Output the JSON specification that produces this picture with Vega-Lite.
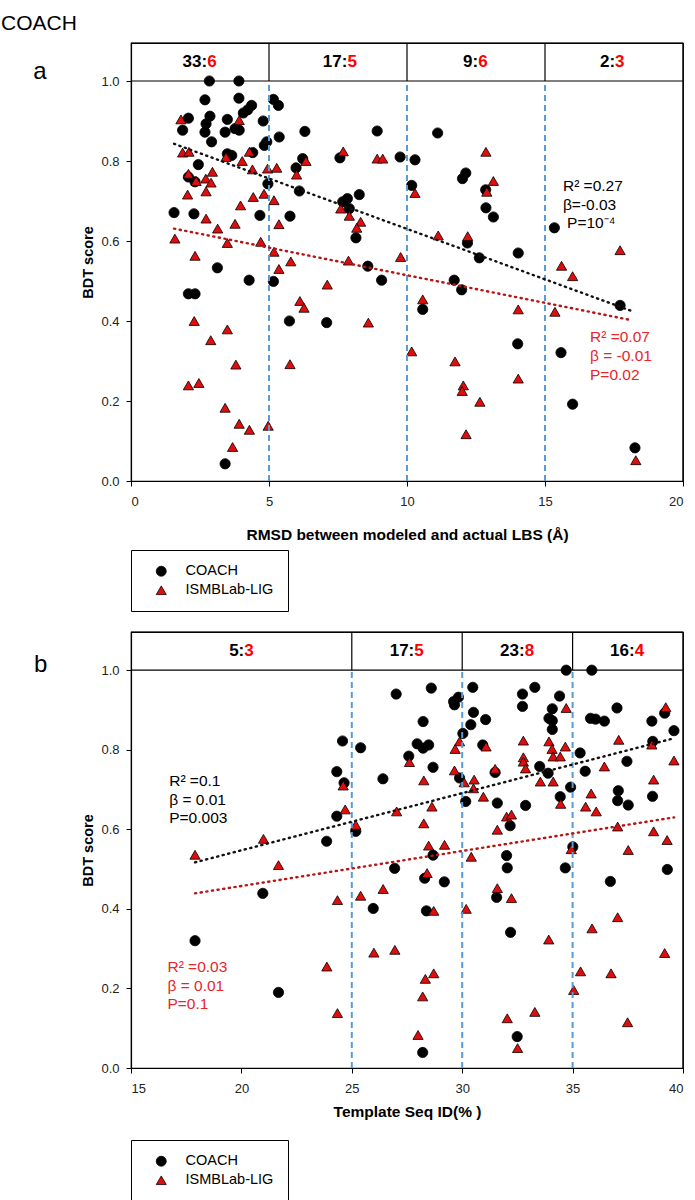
{
"$schema": "https://vega.github.io/schema/vega-lite/v6.json",
"background": "white",
"padding": {"left": 0, "top": 12, "right": 8, "bottom": 0},
"bounds": "flush",
"spacing": 151,
"config": {
  "font": "Liberation Sans",
  "view": {"stroke": "black", "strokeWidth": 1.2},
  "axis": {"grid": false, "domainColor": "black", "domainWidth": 1.2, "tickColor": "black", "tickSize": 5, "labelColor": "#222", "labelFontSize": 13, "titleFontSize": 15.5, "titleFontWeight": "bold", "titleColor": "black"},
  "text": {"font": "Liberation Sans"}
},
"datasets": {
  "pa": [
    {"x":2.84,"y":1.0,"m":"COACH"},{"x":3.91,"y":1.0,"m":"COACH"},{"x":2.68,"y":0.953,"m":"COACH"},{"x":3.91,"y":0.957,"m":"COACH"},{"x":4.37,"y":0.939,"m":"COACH"},{"x":4.23,"y":0.928,"m":"COACH"},{"x":4.07,"y":0.92,"m":"COACH"},{"x":2.08,"y":0.907,"m":"COACH"},{"x":2.86,"y":0.912,"m":"COACH"},{"x":3.49,"y":0.904,"m":"COACH"},{"x":2.72,"y":0.893,"m":"COACH"},{"x":1.87,"y":0.877,"m":"COACH"},{"x":2.68,"y":0.872,"m":"COACH"},{"x":3.41,"y":0.872,"m":"COACH"},{"x":3.77,"y":0.881,"m":"COACH"},{"x":3.92,"y":0.877,"m":"COACH"},{"x":4.79,"y":0.9,"m":"COACH"},{"x":2.92,"y":0.848,"m":"COACH"},{"x":4.92,"y":0.848,"m":"COACH"},{"x":4.83,"y":0.839,"m":"COACH"},{"x":3.49,"y":0.818,"m":"COACH"},{"x":3.65,"y":0.814,"m":"COACH"},{"x":4.41,"y":0.821,"m":"COACH"},{"x":2.44,"y":0.791,"m":"COACH"},{"x":2.08,"y":0.76,"m":"COACH"},{"x":2.32,"y":0.748,"m":"COACH"},{"x":4.96,"y":0.743,"m":"COACH"},{"x":1.56,"y":0.671,"m":"COACH"},{"x":2.28,"y":0.668,"m":"COACH"},{"x":4.67,"y":0.664,"m":"COACH"},{"x":3.13,"y":0.533,"m":"COACH"},{"x":4.28,"y":0.502,"m":"COACH"},{"x":5.16,"y":0.499,"m":"COACH"},{"x":2.08,"y":0.468,"m":"COACH"},{"x":2.32,"y":0.468,"m":"COACH"},{"x":3.41,"y":0.043,"m":"COACH"},{"x":5.16,"y":0.954,"m":"COACH"},{"x":5.34,"y":0.939,"m":"COACH"},{"x":6.3,"y":0.874,"m":"COACH"},{"x":8.92,"y":0.875,"m":"COACH"},{"x":5.37,"y":0.86,"m":"COACH"},{"x":6.22,"y":0.806,"m":"COACH"},{"x":7.57,"y":0.808,"m":"COACH"},{"x":9.75,"y":0.81,"m":"COACH"},{"x":10.29,"y":0.803,"m":"COACH"},{"x":5.98,"y":0.783,"m":"COACH"},{"x":6.1,"y":0.725,"m":"COACH"},{"x":10.17,"y":0.739,"m":"COACH"},{"x":7.84,"y":0.706,"m":"COACH"},{"x":8.27,"y":0.716,"m":"COACH"},{"x":7.67,"y":0.698,"m":"COACH"},{"x":7.91,"y":0.681,"m":"COACH"},{"x":5.76,"y":0.662,"m":"COACH"},{"x":8.15,"y":0.608,"m":"COACH"},{"x":8.58,"y":0.537,"m":"COACH"},{"x":9.08,"y":0.502,"m":"COACH"},{"x":5.74,"y":0.4,"m":"COACH"},{"x":7.09,"y":0.396,"m":"COACH"},{"x":11.11,"y":0.87,"m":"COACH"},{"x":12.13,"y":0.77,"m":"COACH"},{"x":12.01,"y":0.756,"m":"COACH"},{"x":12.85,"y":0.728,"m":"COACH"},{"x":12.86,"y":0.683,"m":"COACH"},{"x":13.13,"y":0.66,"m":"COACH"},{"x":15.34,"y":0.633,"m":"COACH"},{"x":12.19,"y":0.595,"m":"COACH"},{"x":14.03,"y":0.57,"m":"COACH"},{"x":12.62,"y":0.558,"m":"COACH"},{"x":11.71,"y":0.502,"m":"COACH"},{"x":11.98,"y":0.478,"m":"COACH"},{"x":10.57,"y":0.429,"m":"COACH"},{"x":17.72,"y":0.439,"m":"COACH"},{"x":14.01,"y":0.343,"m":"COACH"},{"x":15.58,"y":0.321,"m":"COACH"},{"x":16.0,"y":0.192,"m":"COACH"},{"x":18.26,"y":0.083,"m":"COACH"},
    {"x":1.81,"y":0.904,"m":"ISMBLab-LIG"},{"x":3.92,"y":0.902,"m":"ISMBLab-LIG"},{"x":1.87,"y":0.821,"m":"ISMBLab-LIG"},{"x":2.1,"y":0.823,"m":"ISMBLab-LIG"},{"x":3.44,"y":0.81,"m":"ISMBLab-LIG"},{"x":4.29,"y":0.823,"m":"ISMBLab-LIG"},{"x":4.03,"y":0.8,"m":"ISMBLab-LIG"},{"x":4.4,"y":0.779,"m":"ISMBLab-LIG"},{"x":4.95,"y":0.781,"m":"ISMBLab-LIG"},{"x":5.28,"y":0.783,"m":"ISMBLab-LIG"},{"x":2.08,"y":0.768,"m":"ISMBLab-LIG"},{"x":2.36,"y":0.75,"m":"ISMBLab-LIG"},{"x":2.71,"y":0.756,"m":"ISMBLab-LIG"},{"x":2.95,"y":0.773,"m":"ISMBLab-LIG"},{"x":2.9,"y":0.746,"m":"ISMBLab-LIG"},{"x":2.05,"y":0.716,"m":"ISMBLab-LIG"},{"x":2.72,"y":0.724,"m":"ISMBLab-LIG"},{"x":4.43,"y":0.71,"m":"ISMBLab-LIG"},{"x":4.82,"y":0.718,"m":"ISMBLab-LIG"},{"x":5.18,"y":0.702,"m":"ISMBLab-LIG"},{"x":3.97,"y":0.689,"m":"ISMBLab-LIG"},{"x":2.72,"y":0.656,"m":"ISMBLab-LIG"},{"x":3.77,"y":0.643,"m":"ISMBLab-LIG"},{"x":3.14,"y":0.631,"m":"ISMBLab-LIG"},{"x":1.59,"y":0.606,"m":"ISMBLab-LIG"},{"x":3.49,"y":0.595,"m":"ISMBLab-LIG"},{"x":4.7,"y":0.598,"m":"ISMBLab-LIG"},{"x":5.18,"y":0.573,"m":"ISMBLab-LIG"},{"x":2.32,"y":0.563,"m":"ISMBLab-LIG"},{"x":5.36,"y":0.53,"m":"ISMBLab-LIG"},{"x":2.29,"y":0.4,"m":"ISMBLab-LIG"},{"x":3.49,"y":0.379,"m":"ISMBLab-LIG"},{"x":2.89,"y":0.352,"m":"ISMBLab-LIG"},{"x":3.8,"y":0.291,"m":"ISMBLab-LIG"},{"x":2.08,"y":0.239,"m":"ISMBLab-LIG"},{"x":2.46,"y":0.245,"m":"ISMBLab-LIG"},{"x":3.41,"y":0.183,"m":"ISMBLab-LIG"},{"x":3.92,"y":0.143,"m":"ISMBLab-LIG"},{"x":4.29,"y":0.128,"m":"ISMBLab-LIG"},{"x":4.97,"y":0.138,"m":"ISMBLab-LIG"},{"x":3.68,"y":0.085,"m":"ISMBLab-LIG"},{"x":7.69,"y":0.824,"m":"ISMBLab-LIG"},{"x":6.34,"y":0.8,"m":"ISMBLab-LIG"},{"x":8.92,"y":0.806,"m":"ISMBLab-LIG"},{"x":9.12,"y":0.806,"m":"ISMBLab-LIG"},{"x":6.0,"y":0.766,"m":"ISMBLab-LIG"},{"x":7.6,"y":0.681,"m":"ISMBLab-LIG"},{"x":7.91,"y":0.663,"m":"ISMBLab-LIG"},{"x":8.32,"y":0.648,"m":"ISMBLab-LIG"},{"x":8.18,"y":0.633,"m":"ISMBLab-LIG"},{"x":5.36,"y":0.642,"m":"ISMBLab-LIG"},{"x":5.79,"y":0.549,"m":"ISMBLab-LIG"},{"x":7.88,"y":0.551,"m":"ISMBLab-LIG"},{"x":9.77,"y":0.56,"m":"ISMBLab-LIG"},{"x":7.11,"y":0.491,"m":"ISMBLab-LIG"},{"x":6.12,"y":0.45,"m":"ISMBLab-LIG"},{"x":6.27,"y":0.433,"m":"ISMBLab-LIG"},{"x":8.6,"y":0.396,"m":"ISMBLab-LIG"},{"x":10.17,"y":0.324,"m":"ISMBLab-LIG"},{"x":5.76,"y":0.292,"m":"ISMBLab-LIG"},{"x":12.86,"y":0.823,"m":"ISMBLab-LIG"},{"x":13.13,"y":0.75,"m":"ISMBLab-LIG"},{"x":12.89,"y":0.723,"m":"ISMBLab-LIG"},{"x":10.29,"y":0.72,"m":"ISMBLab-LIG"},{"x":11.13,"y":0.614,"m":"ISMBLab-LIG"},{"x":12.2,"y":0.612,"m":"ISMBLab-LIG"},{"x":17.72,"y":0.577,"m":"ISMBLab-LIG"},{"x":15.6,"y":0.538,"m":"ISMBLab-LIG"},{"x":16.0,"y":0.512,"m":"ISMBLab-LIG"},{"x":10.57,"y":0.454,"m":"ISMBLab-LIG"},{"x":14.03,"y":0.429,"m":"ISMBLab-LIG"},{"x":15.36,"y":0.423,"m":"ISMBLab-LIG"},{"x":11.74,"y":0.299,"m":"ISMBLab-LIG"},{"x":14.03,"y":0.256,"m":"ISMBLab-LIG"},{"x":12.04,"y":0.239,"m":"ISMBLab-LIG"},{"x":12.0,"y":0.225,"m":"ISMBLab-LIG"},{"x":12.64,"y":0.198,"m":"ISMBLab-LIG"},{"x":12.14,"y":0.117,"m":"ISMBLab-LIG"},{"x":18.29,"y":0.052,"m":"ISMBLab-LIG"}
  ],
  "pb": [
    {"x":24.58,"y":0.822,"m":"COACH"},{"x":25.4,"y":0.805,"m":"COACH"},{"x":24.32,"y":0.745,"m":"COACH"},{"x":24.65,"y":0.717,"m":"COACH"},{"x":24.32,"y":0.633,"m":"COACH"},{"x":25.18,"y":0.595,"m":"COACH"},{"x":23.86,"y":0.57,"m":"COACH"},{"x":20.97,"y":0.439,"m":"COACH"},{"x":17.9,"y":0.32,"m":"COACH"},{"x":21.68,"y":0.19,"m":"COACH"},{"x":34.71,"y":1.0,"m":"COACH"},{"x":35.87,"y":1.0,"m":"COACH"},{"x":27.01,"y":0.94,"m":"COACH"},{"x":28.6,"y":0.955,"m":"COACH"},{"x":30.48,"y":0.957,"m":"COACH"},{"x":32.73,"y":0.94,"m":"COACH"},{"x":33.29,"y":0.957,"m":"COACH"},{"x":34.41,"y":0.935,"m":"COACH"},{"x":29.83,"y":0.932,"m":"COACH"},{"x":29.61,"y":0.921,"m":"COACH"},{"x":29.65,"y":0.913,"m":"COACH"},{"x":32.73,"y":0.909,"m":"COACH"},{"x":34.08,"y":0.903,"m":"COACH"},{"x":30.51,"y":0.894,"m":"COACH"},{"x":37.01,"y":0.905,"m":"COACH"},{"x":31.06,"y":0.876,"m":"COACH"},{"x":28.23,"y":0.871,"m":"COACH"},{"x":30.39,"y":0.863,"m":"COACH"},{"x":33.93,"y":0.879,"m":"COACH"},{"x":34.08,"y":0.873,"m":"COACH"},{"x":35.81,"y":0.879,"m":"COACH"},{"x":36.04,"y":0.877,"m":"COACH"},{"x":36.44,"y":0.872,"m":"COACH"},{"x":38.59,"y":0.872,"m":"COACH"},{"x":39.17,"y":0.892,"m":"COACH"},{"x":34.08,"y":0.851,"m":"COACH"},{"x":39.59,"y":0.848,"m":"COACH"},{"x":30.03,"y":0.841,"m":"COACH"},{"x":27.96,"y":0.815,"m":"COACH"},{"x":28.23,"y":0.804,"m":"COACH"},{"x":28.48,"y":0.812,"m":"COACH"},{"x":30.93,"y":0.812,"m":"COACH"},{"x":35.34,"y":0.792,"m":"COACH"},{"x":38.63,"y":0.821,"m":"COACH"},{"x":27.58,"y":0.784,"m":"COACH"},{"x":37.46,"y":0.771,"m":"COACH"},{"x":28.68,"y":0.756,"m":"COACH"},{"x":33.51,"y":0.758,"m":"COACH"},{"x":33.89,"y":0.741,"m":"COACH"},{"x":35.57,"y":0.746,"m":"COACH"},{"x":31.49,"y":0.743,"m":"COACH"},{"x":26.41,"y":0.727,"m":"COACH"},{"x":29.88,"y":0.729,"m":"COACH"},{"x":34.91,"y":0.706,"m":"COACH"},{"x":37.07,"y":0.697,"m":"COACH"},{"x":37.04,"y":0.672,"m":"COACH"},{"x":37.52,"y":0.661,"m":"COACH"},{"x":38.62,"y":0.683,"m":"COACH"},{"x":34.44,"y":0.682,"m":"COACH"},{"x":30.16,"y":0.67,"m":"COACH"},{"x":31.59,"y":0.666,"m":"COACH"},{"x":32.87,"y":0.66,"m":"COACH"},{"x":32.17,"y":0.609,"m":"COACH"},{"x":28.68,"y":0.535,"m":"COACH"},{"x":35.01,"y":0.556,"m":"COACH"},{"x":32.01,"y":0.534,"m":"COACH"},{"x":26.94,"y":0.502,"m":"COACH"},{"x":32.04,"y":0.503,"m":"COACH"},{"x":34.67,"y":0.503,"m":"COACH"},{"x":39.29,"y":0.499,"m":"COACH"},{"x":28.3,"y":0.477,"m":"COACH"},{"x":29.19,"y":0.468,"m":"COACH"},{"x":36.71,"y":0.469,"m":"COACH"},{"x":31.56,"y":0.429,"m":"COACH"},{"x":25.97,"y":0.401,"m":"COACH"},{"x":28.38,"y":0.395,"m":"COACH"},{"x":32.19,"y":0.341,"m":"COACH"},{"x":32.49,"y":0.079,"m":"COACH"},{"x":28.21,"y":0.039,"m":"COACH"},
    {"x":24.61,"y":0.71,"m":"ISMBLab-LIG"},{"x":24.7,"y":0.65,"m":"ISMBLab-LIG"},{"x":25.18,"y":0.611,"m":"ISMBLab-LIG"},{"x":21.0,"y":0.576,"m":"ISMBLab-LIG"},{"x":17.9,"y":0.536,"m":"ISMBLab-LIG"},{"x":21.68,"y":0.51,"m":"ISMBLab-LIG"},{"x":24.35,"y":0.422,"m":"ISMBLab-LIG"},{"x":25.4,"y":0.433,"m":"ISMBLab-LIG"},{"x":23.87,"y":0.255,"m":"ISMBLab-LIG"},{"x":24.35,"y":0.138,"m":"ISMBLab-LIG"},{"x":34.71,"y":0.905,"m":"ISMBLab-LIG"},{"x":39.22,"y":0.907,"m":"ISMBLab-LIG"},{"x":29.88,"y":0.821,"m":"ISMBLab-LIG"},{"x":29.68,"y":0.802,"m":"ISMBLab-LIG"},{"x":31.08,"y":0.808,"m":"ISMBLab-LIG"},{"x":32.77,"y":0.823,"m":"ISMBLab-LIG"},{"x":33.93,"y":0.821,"m":"ISMBLab-LIG"},{"x":34.07,"y":0.802,"m":"ISMBLab-LIG"},{"x":34.67,"y":0.808,"m":"ISMBLab-LIG"},{"x":37.09,"y":0.825,"m":"ISMBLab-LIG"},{"x":38.59,"y":0.813,"m":"ISMBLab-LIG"},{"x":32.77,"y":0.781,"m":"ISMBLab-LIG"},{"x":32.77,"y":0.77,"m":"ISMBLab-LIG"},{"x":32.87,"y":0.753,"m":"ISMBLab-LIG"},{"x":34.12,"y":0.783,"m":"ISMBLab-LIG"},{"x":34.44,"y":0.783,"m":"ISMBLab-LIG"},{"x":27.61,"y":0.769,"m":"ISMBLab-LIG"},{"x":39.59,"y":0.773,"m":"ISMBLab-LIG"},{"x":36.44,"y":0.758,"m":"ISMBLab-LIG"},{"x":31.49,"y":0.752,"m":"ISMBLab-LIG"},{"x":29.65,"y":0.748,"m":"ISMBLab-LIG"},{"x":28.26,"y":0.723,"m":"ISMBLab-LIG"},{"x":30.09,"y":0.718,"m":"ISMBLab-LIG"},{"x":30.54,"y":0.725,"m":"ISMBLab-LIG"},{"x":30.51,"y":0.703,"m":"ISMBLab-LIG"},{"x":33.54,"y":0.72,"m":"ISMBLab-LIG"},{"x":34.12,"y":0.72,"m":"ISMBLab-LIG"},{"x":38.67,"y":0.725,"m":"ISMBLab-LIG"},{"x":30.96,"y":0.682,"m":"ISMBLab-LIG"},{"x":35.84,"y":0.69,"m":"ISMBLab-LIG"},{"x":28.63,"y":0.657,"m":"ISMBLab-LIG"},{"x":27.03,"y":0.645,"m":"ISMBLab-LIG"},{"x":34.46,"y":0.664,"m":"ISMBLab-LIG"},{"x":35.59,"y":0.657,"m":"ISMBLab-LIG"},{"x":36.07,"y":0.645,"m":"ISMBLab-LIG"},{"x":32.01,"y":0.632,"m":"ISMBLab-LIG"},{"x":32.23,"y":0.637,"m":"ISMBLab-LIG"},{"x":28.26,"y":0.615,"m":"ISMBLab-LIG"},{"x":31.59,"y":0.599,"m":"ISMBLab-LIG"},{"x":37.04,"y":0.607,"m":"ISMBLab-LIG"},{"x":38.67,"y":0.595,"m":"ISMBLab-LIG"},{"x":39.28,"y":0.573,"m":"ISMBLab-LIG"},{"x":28.48,"y":0.559,"m":"ISMBLab-LIG"},{"x":29.2,"y":0.561,"m":"ISMBLab-LIG"},{"x":34.94,"y":0.55,"m":"ISMBLab-LIG"},{"x":37.52,"y":0.548,"m":"ISMBLab-LIG"},{"x":30.41,"y":0.531,"m":"ISMBLab-LIG"},{"x":28.41,"y":0.49,"m":"ISMBLab-LIG"},{"x":26.42,"y":0.45,"m":"ISMBLab-LIG"},{"x":31.59,"y":0.452,"m":"ISMBLab-LIG"},{"x":32.23,"y":0.427,"m":"ISMBLab-LIG"},{"x":28.71,"y":0.395,"m":"ISMBLab-LIG"},{"x":30.18,"y":0.4,"m":"ISMBLab-LIG"},{"x":37.04,"y":0.379,"m":"ISMBLab-LIG"},{"x":35.88,"y":0.351,"m":"ISMBLab-LIG"},{"x":33.92,"y":0.323,"m":"ISMBLab-LIG"},{"x":26.0,"y":0.29,"m":"ISMBLab-LIG"},{"x":26.95,"y":0.297,"m":"ISMBLab-LIG"},{"x":39.17,"y":0.289,"m":"ISMBLab-LIG"},{"x":35.36,"y":0.243,"m":"ISMBLab-LIG"},{"x":36.74,"y":0.238,"m":"ISMBLab-LIG"},{"x":28.71,"y":0.238,"m":"ISMBLab-LIG"},{"x":28.33,"y":0.224,"m":"ISMBLab-LIG"},{"x":35.05,"y":0.196,"m":"ISMBLab-LIG"},{"x":28.21,"y":0.18,"m":"ISMBLab-LIG"},{"x":32.04,"y":0.125,"m":"ISMBLab-LIG"},{"x":33.29,"y":0.141,"m":"ISMBLab-LIG"},{"x":37.49,"y":0.115,"m":"ISMBLab-LIG"},{"x":28.0,"y":0.083,"m":"ISMBLab-LIG"},{"x":32.51,"y":0.05,"m":"ISMBLab-LIG"}
  ],
  "diva": [{"x":5},{"x":10},{"x":15}],
  "divb": [{"x":25},{"x":30},{"x":35}],
  "one": [{"k":1}],
  "hdra": [{"x":2.76,"l":"33:","r":"6"},{"x":7.84,"l":"17:","r":"5"},{"x":12.58,"l":"9:","r":"6"},{"x":17.54,"l":"2:","r":"3"}],
  "hdrb": [{"x":20.13,"l":"5:","r":"3"},{"x":27.83,"l":"17:","r":"5"},{"x":32.83,"l":"23:","r":"8"},{"x":37.81,"l":"16:","r":"4"}],
  "tra": [{"x":1.56,"y":0.843,"s":"COACH"},{"x":18.14,"y":0.425,"s":"COACH"},{"x":1.56,"y":0.631,"s":"LIG"},{"x":18.14,"y":0.402,"s":"LIG"}],
  "trb": [{"x":17.9,"y":0.517,"s":"COACH"},{"x":39.6,"y":0.829,"s":"COACH"},{"x":17.9,"y":0.439,"s":"LIG"},{"x":39.6,"y":0.63,"s":"LIG"}],
  "anna": [{"x":15.65,"y":0.7375,"t":"R² =0.27","g":"COACH"},{"x":15.65,"y":0.691,"t":"β=-0.03","g":"COACH"},{"x":15.8,"y":0.645,"t":"P=10⁻⁴","g":"COACH"},{"x":16.63,"y":0.36,"t":"R² =0.07","g":"LIG"},{"x":16.63,"y":0.3125,"t":"β = -0.01","g":"LIG"},{"x":16.63,"y":0.266,"t":"P=0.02","g":"LIG"}],
  "annb": [{"x":16.73,"y":0.721,"t":"R² =0.1","g":"COACH"},{"x":16.73,"y":0.674,"t":"β = 0.01","g":"COACH"},{"x":16.73,"y":0.628,"t":"P=0.003","g":"COACH"},{"x":16.65,"y":0.255,"t":"R² =0.03","g":"LIG"},{"x":16.65,"y":0.207,"t":"β = 0.01","g":"LIG"},{"x":16.65,"y":0.16,"t":"P=0.1","g":"LIG"}],
  "laba": [{"x":-3.3,"y":1.0225,"t":"a"}],
  "labb": [{"x":10.91,"y":1.0126,"t":"b"}],
  "ttl": [{"x":-4.71,"y":1.1425,"t":"COACH"}]
},
"resolve": {"scale": {"x": "independent", "y": "independent", "color": "independent", "shape": "independent"}, "legend": {"color": "independent", "shape": "independent"}},
"vconcat": [
  {
    "width": 552, "height": 438,
    "view": {"stroke": "black", "strokeWidth": 1.2},
    "layer": [
      {"data": {"name": "pa"}, "mark": {"type": "point", "filled": true, "stroke": "black", "strokeWidth": 0.8, "opacity": 1, "size": 105},
       "encoding": {
         "x": {"field": "x", "type": "quantitative", "scale": {"domain": [0, 20], "nice": false, "zero": false},
               "axis": {"values": [0, 5, 10, 15, 20], "title": "RMSD between modeled and actual LBS (Å)", "labelPadding": 9, "titlePadding": 19}},
         "y": {"field": "y", "type": "quantitative", "scale": {"domain": [0, 1.095], "nice": false},
               "axis": {"values": [0, 0.2, 0.4, 0.6, 0.8, 1.0], "format": ".1f", "title": "BDT score", "labelPadding": 7, "titlePadding": 5, "titleFontSize": 14.5}},
         "shape": {"field": "m", "type": "nominal", "scale": {"domain": ["COACH", "ISMBLab-LIG"], "range": ["circle", "triangle-up"]},
                   "legend": {"orient": "none", "legendX": 0, "legendY": 507, "title": null, "strokeColor": "black", "fillColor": "white", "padding": 14, "labelFontSize": 14.5, "labelColor": "black", "symbolSize": 100, "symbolStrokeColor": "black", "symbolStrokeWidth": 0.8, "rowPadding": 4, "labelOffset": 17, "symbolOffset": 9}},
         "color": {"field": "m", "type": "nominal", "scale": {"domain": ["COACH", "ISMBLab-LIG"], "range": ["black", "#e00d0d"]}}
       }},
      {"data": {"name": "diva"}, "mark": {"type": "rule", "color": "#5b9bd5", "strokeWidth": 2, "strokeDash": [6, 4]},
       "encoding": {"x": {"field": "x", "type": "quantitative"}, "y": {"datum": 0}, "y2": {"datum": 1.0}}},
      {"data": {"name": "diva"}, "mark": {"type": "rule", "color": "black", "strokeWidth": 1.2},
       "encoding": {"x": {"field": "x", "type": "quantitative"}, "y": {"datum": 1.0}, "y2": {"datum": 1.095}}},
      {"data": {"name": "one"}, "mark": {"type": "rule", "color": "black", "strokeWidth": 1.2},
       "encoding": {"x": {"datum": 0}, "x2": {"datum": 20}, "y": {"datum": 1.0}}},
      {"data": {"name": "one"}, "mark": {"type": "rule", "color": "black", "strokeWidth": 1.2},
       "encoding": {"x": {"datum": 0}, "x2": {"datum": 20}, "y": {"datum": 1.095}}},
      {"data": {"name": "one"}, "mark": {"type": "rule", "color": "black", "strokeWidth": 1.2},
       "encoding": {"x": {"datum": 20}, "y": {"datum": 0}, "y2": {"datum": 1.095}}},
      {"data": {"name": "tra"}, "transform": [{"filter": "datum.s == 'COACH'"}], "mark": {"type": "line", "color": "#111", "strokeWidth": 2.4, "strokeDash": [1.2, 4.5], "strokeCap": "round"},
       "encoding": {"x": {"field": "x", "type": "quantitative"}, "y": {"field": "y", "type": "quantitative"}}},
      {"data": {"name": "tra"}, "transform": [{"filter": "datum.s == 'LIG'"}], "mark": {"type": "line", "color": "#b81414", "strokeWidth": 2.4, "strokeDash": [1.2, 4.5], "strokeCap": "round"},
       "encoding": {"x": {"field": "x", "type": "quantitative"}, "y": {"field": "y", "type": "quantitative"}}},
      {"data": {"name": "hdra"}, "mark": {"type": "text", "align": "right", "baseline": "middle", "fontSize": 17, "fontWeight": "bold", "color": "black"},
       "encoding": {"x": {"field": "x", "type": "quantitative"}, "y": {"datum": 1.0475}, "text": {"field": "l"}}},
      {"data": {"name": "hdra"}, "mark": {"type": "text", "align": "left", "baseline": "middle", "fontSize": 17, "fontWeight": "bold", "color": "#ff0000"},
       "encoding": {"x": {"field": "x", "type": "quantitative"}, "y": {"datum": 1.0475}, "text": {"field": "r"}}},
      {"data": {"name": "anna"}, "transform": [{"filter": "datum.g == 'COACH'"}], "mark": {"type": "text", "align": "left", "baseline": "middle", "fontSize": 15.5, "color": "black"},
       "encoding": {"x": {"field": "x", "type": "quantitative"}, "y": {"field": "y", "type": "quantitative"}, "text": {"field": "t"}}},
      {"data": {"name": "anna"}, "transform": [{"filter": "datum.g == 'LIG'"}], "mark": {"type": "text", "align": "left", "baseline": "middle", "fontSize": 15.5, "color": "#e8262a"},
       "encoding": {"x": {"field": "x", "type": "quantitative"}, "y": {"field": "y", "type": "quantitative"}, "text": {"field": "t"}}},
      {"data": {"name": "laba"}, "mark": {"type": "text", "align": "center", "baseline": "middle", "fontSize": 24, "color": "black"},
       "encoding": {"x": {"field": "x", "type": "quantitative"}, "y": {"field": "y", "type": "quantitative"}, "text": {"field": "t"}}},
      {"data": {"name": "ttl"}, "mark": {"type": "text", "align": "left", "baseline": "middle", "fontSize": 21, "color": "black"},
       "encoding": {"x": {"field": "x", "type": "quantitative"}, "y": {"field": "y", "type": "quantitative"}, "text": {"field": "t"}}}
    ]
  },
  {
    "width": 552, "height": 436,
    "view": {"stroke": "black", "strokeWidth": 1.2},
    "layer": [
      {"data": {"name": "pb"}, "mark": {"type": "point", "filled": true, "stroke": "black", "strokeWidth": 0.8, "opacity": 1, "size": 105},
       "encoding": {
         "x": {"field": "x", "type": "quantitative", "scale": {"domain": [15, 40], "nice": false, "zero": false},
               "axis": {"values": [15, 20, 25, 30, 35, 40], "title": "Template Seq ID(% )", "labelPadding": 9, "titlePadding": 9}},
         "y": {"field": "y", "type": "quantitative", "scale": {"domain": [0, 1.096], "nice": false},
               "axis": {"values": [0, 0.2, 0.4, 0.6, 0.8, 1.0], "format": ".1f", "title": "BDT score", "labelPadding": 7, "titlePadding": 5, "titleFontSize": 14.5}},
         "shape": {"field": "m", "type": "nominal", "scale": {"domain": ["COACH", "ISMBLab-LIG"], "range": ["circle", "triangle-up"]},
                   "legend": {"orient": "none", "legendX": 0, "legendY": 508, "title": null, "strokeColor": "black", "fillColor": "white", "padding": 14, "labelFontSize": 14.5, "labelColor": "black", "symbolSize": 100, "symbolStrokeColor": "black", "symbolStrokeWidth": 0.8, "rowPadding": 4, "labelOffset": 17, "symbolOffset": 9}},
         "color": {"field": "m", "type": "nominal", "scale": {"domain": ["COACH", "ISMBLab-LIG"], "range": ["black", "#e00d0d"]}}
       }},
      {"data": {"name": "divb"}, "mark": {"type": "rule", "color": "#5b9bd5", "strokeWidth": 2, "strokeDash": [6, 4]},
       "encoding": {"x": {"field": "x", "type": "quantitative"}, "y": {"datum": 0}, "y2": {"datum": 1.0}}},
      {"data": {"name": "divb"}, "mark": {"type": "rule", "color": "black", "strokeWidth": 1.2},
       "encoding": {"x": {"field": "x", "type": "quantitative"}, "y": {"datum": 1.0}, "y2": {"datum": 1.096}}},
      {"data": {"name": "one"}, "mark": {"type": "rule", "color": "black", "strokeWidth": 1.2},
       "encoding": {"x": {"datum": 15}, "x2": {"datum": 40}, "y": {"datum": 1.0}}},
      {"data": {"name": "one"}, "mark": {"type": "rule", "color": "black", "strokeWidth": 1.2},
       "encoding": {"x": {"datum": 15}, "x2": {"datum": 40}, "y": {"datum": 1.096}}},
      {"data": {"name": "one"}, "mark": {"type": "rule", "color": "black", "strokeWidth": 1.2},
       "encoding": {"x": {"datum": 40}, "y": {"datum": 0}, "y2": {"datum": 1.096}}},
      {"data": {"name": "trb"}, "transform": [{"filter": "datum.s == 'COACH'"}], "mark": {"type": "line", "color": "#111", "strokeWidth": 2.4, "strokeDash": [1.2, 4.5], "strokeCap": "round"},
       "encoding": {"x": {"field": "x", "type": "quantitative"}, "y": {"field": "y", "type": "quantitative"}}},
      {"data": {"name": "trb"}, "transform": [{"filter": "datum.s == 'LIG'"}], "mark": {"type": "line", "color": "#b81414", "strokeWidth": 2.4, "strokeDash": [1.2, 4.5], "strokeCap": "round"},
       "encoding": {"x": {"field": "x", "type": "quantitative"}, "y": {"field": "y", "type": "quantitative"}}},
      {"data": {"name": "hdrb"}, "mark": {"type": "text", "align": "right", "baseline": "middle", "fontSize": 17, "fontWeight": "bold", "color": "black"},
       "encoding": {"x": {"field": "x", "type": "quantitative"}, "y": {"datum": 1.048}, "text": {"field": "l"}}},
      {"data": {"name": "hdrb"}, "mark": {"type": "text", "align": "left", "baseline": "middle", "fontSize": 17, "fontWeight": "bold", "color": "#ff0000"},
       "encoding": {"x": {"field": "x", "type": "quantitative"}, "y": {"datum": 1.048}, "text": {"field": "r"}}},
      {"data": {"name": "annb"}, "transform": [{"filter": "datum.g == 'COACH'"}], "mark": {"type": "text", "align": "left", "baseline": "middle", "fontSize": 15.5, "color": "black"},
       "encoding": {"x": {"field": "x", "type": "quantitative"}, "y": {"field": "y", "type": "quantitative"}, "text": {"field": "t"}}},
      {"data": {"name": "annb"}, "transform": [{"filter": "datum.g == 'LIG'"}], "mark": {"type": "text", "align": "left", "baseline": "middle", "fontSize": 15.5, "color": "#e8262a"},
       "encoding": {"x": {"field": "x", "type": "quantitative"}, "y": {"field": "y", "type": "quantitative"}, "text": {"field": "t"}}},
      {"data": {"name": "labb"}, "mark": {"type": "text", "align": "center", "baseline": "middle", "fontSize": 24, "color": "black"},
       "encoding": {"x": {"field": "x", "type": "quantitative"}, "y": {"field": "y", "type": "quantitative"}, "text": {"field": "t"}}}
    ]
  }
]
}
